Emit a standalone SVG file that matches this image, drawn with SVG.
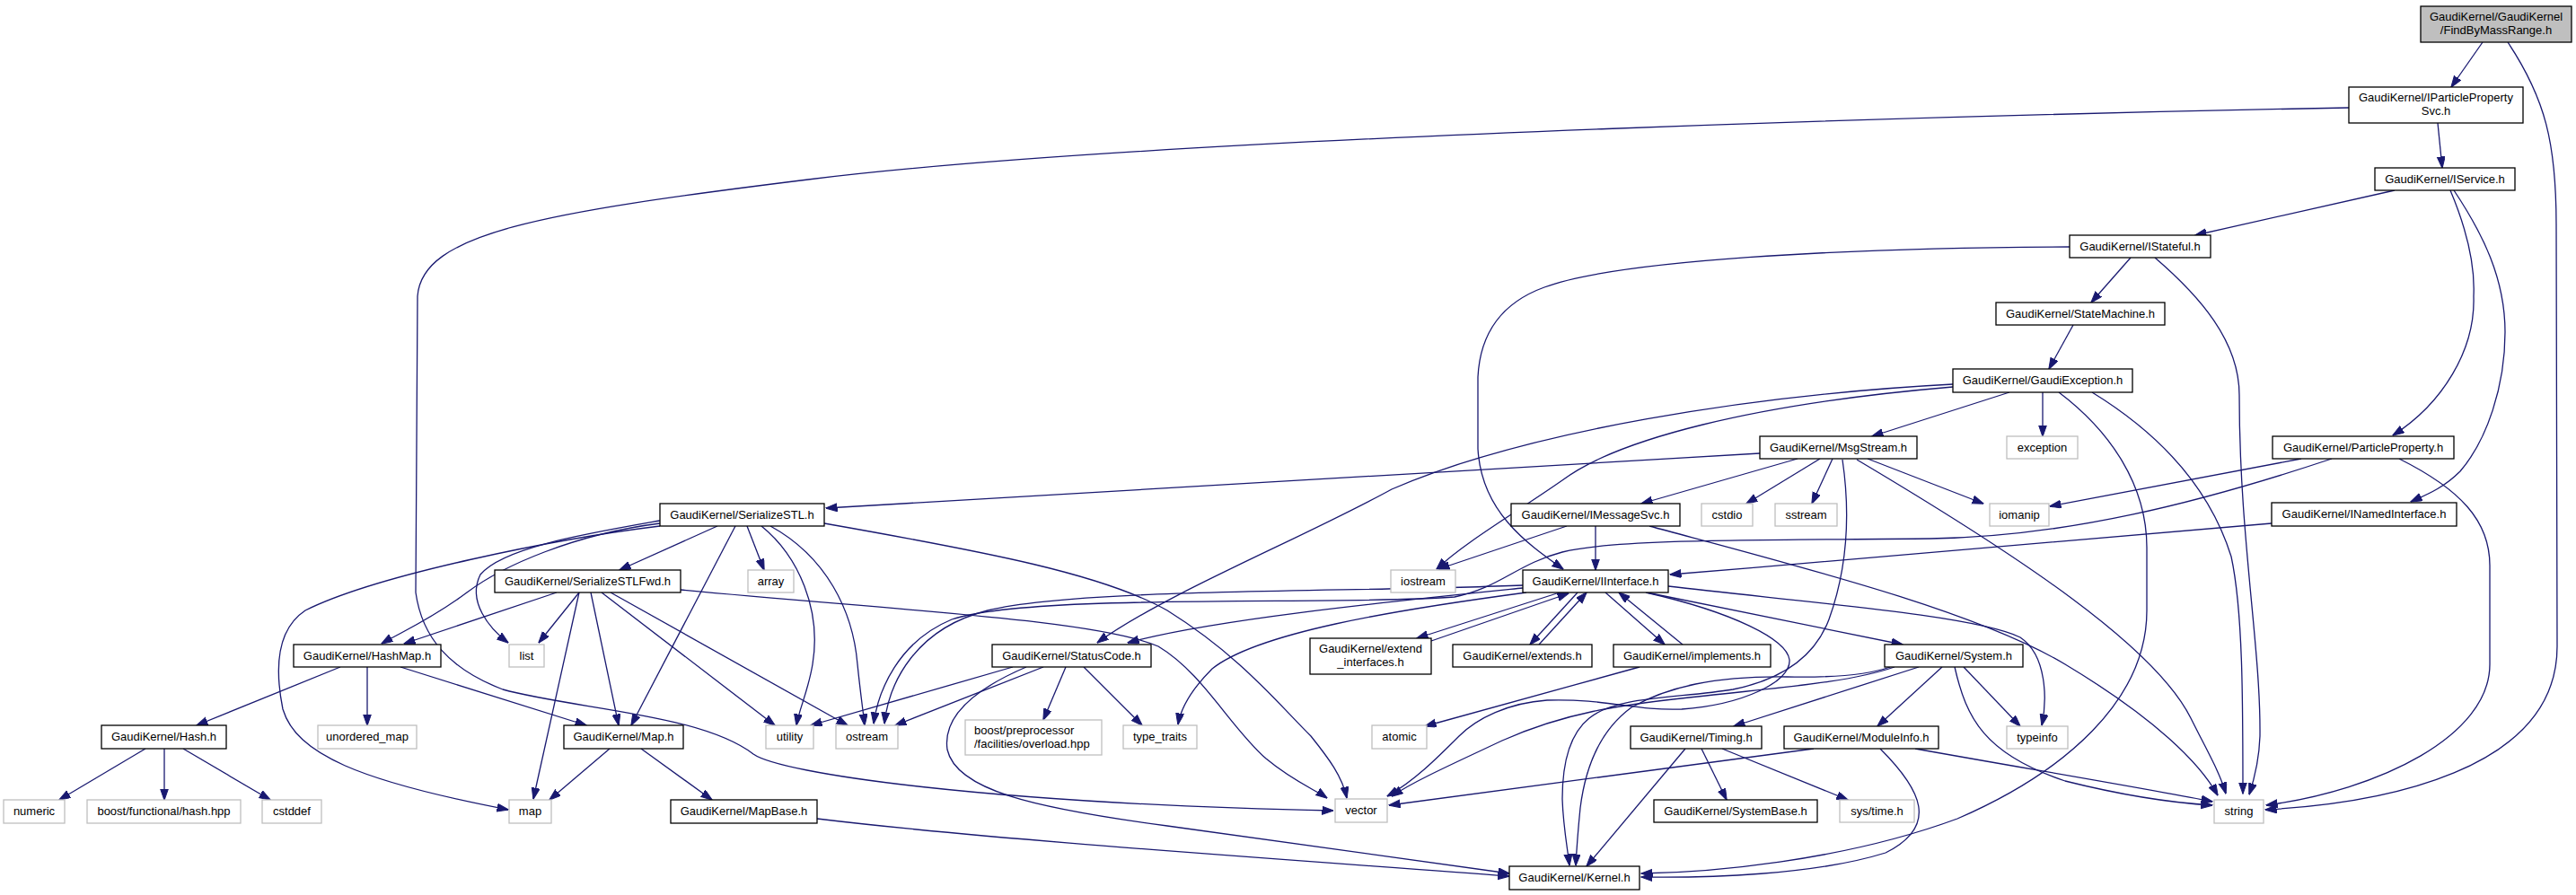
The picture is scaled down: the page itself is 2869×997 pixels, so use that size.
<svg xmlns="http://www.w3.org/2000/svg" width="2869" height="997" viewBox="0 0 2869 997">
<defs>
<marker id="a" markerUnits="userSpaceOnUse" markerWidth="13" markerHeight="10" refX="12.5" refY="4.5" orient="auto"><path d="M0,0 L13,4.5 L0,9 z" fill="#191970" stroke="#191970" stroke-width="1"/></marker>
<style>
rect{fill:#fff;stroke:#000;stroke-width:1.3}
.x rect{stroke:#bfbfbf}
.r rect{fill:#bfbfbf}
text{font-family:"Liberation Sans",Arial,Helvetica,sans-serif;font-size:13px;text-anchor:middle;fill:#000}
.l{text-anchor:start}
#edges path{fill:none;stroke:#191970;stroke-width:1.3;marker-end:url(#a)}
</style>
</defs>
<rect x="0" y="0" width="2869" height="997" style="fill:#fff;stroke:none"/>
<g id="edges">
<path d="M2765,47 L2730,97"/>
<path d="M2793,47 C2835,110 2847,160 2847,250 L2848,720 C2848,860 2650,895 2523,902"/>
<path d="M2715,137 L2720,187"/>
<path d="M2616,120 C2300,126 1300,150 900,200 C600,237 470,260 465,330 L463,660 C470,710 500,745 560,768 C640,790 780,795 839,840 C870,862 1100,895 1485,903"/>
<path d="M2667,212 L2445,262"/>
<path d="M2729,212 C2745,250 2757,290 2755,330 C2757,390 2720,450 2665,485"/>
<path d="M2733,212 C2765,260 2790,310 2790,370 C2790,430 2770,490 2740,525 C2720,545 2700,552 2685,559"/>
<path d="M2305,275 C2050,276 1800,290 1720,320 C1665,340 1648,380 1646,420 L1646,500 C1650,570 1700,605 1741,634"/>
<path d="M2373,287 L2329,337"/>
<path d="M2400,287 C2450,330 2494,380 2494,440 C2494,600 2518,720 2517,820 C2516,850 2510,870 2505,885"/>
<path d="M2309,362 L2282,411"/>
<path d="M2238,437 L2085,486"/>
<path d="M2275,437 L2275,486"/>
<path d="M2175,428 C1950,440 1700,480 1550,545 C1450,600 1300,660 1222,716"/>
<path d="M2175,431 C1950,450 1800,490 1740,535 C1690,570 1630,605 1600,634"/>
<path d="M2293,437 C2350,480 2391,540 2391,610 L2391,680 C2391,780 2300,860 2180,912 C2050,960 1900,972 1828,973"/>
<path d="M2330,437 C2400,480 2460,540 2485,620 C2498,680 2498,780 2498,884"/>
<path d="M1960,505 C1700,520 1400,540 920,566"/>
<path d="M2002,511 L1828,561"/>
<path d="M2027,511 L1945,561"/>
<path d="M2041,511 L2018,561"/>
<path d="M2080,511 L2209,561"/>
<path d="M2068,512 C2250,620 2400,720 2440,800 C2460,840 2472,860 2479,884"/>
<path d="M2052,512 C2062,580 2055,640 2037,690 C2020,735 1980,758 1930,768 C1870,778 1800,775 1770,800 C1745,820 1740,860 1740,890 C1741,920 1745,940 1748,964"/>
<path d="M1777,586 L1777,635"/>
<path d="M1745,586 L1602,634"/>
<path d="M1837,586 C2000,630 2200,680 2300,740 C2400,800 2450,850 2470,886"/>
<path d="M2530,583 C2350,600 2100,620 1860,640"/>
<path d="M2563,511 L2283,564"/>
<path d="M2597,511 C2450,560 2300,598 2150,600 C1950,602 1800,600 1740,615 C1690,628 1670,655 1620,665 C1500,675 1150,660 1060,690 C1000,715 978,770 973,806"/>
<path d="M2672,511 C2740,545 2773,580 2773,630 L2773,740 C2773,820 2650,880 2524,897"/>
<path d="M1737,660 L1578,711"/>
<path d="M1594,714 L1747,661"/>
<path d="M1757,660 L1704,718"/>
<path d="M1714,718 L1767,660"/>
<path d="M1788,660 L1854,718"/>
<path d="M1874,718 L1803,660"/>
<path d="M1834,660 L2119,718"/>
<path d="M1858,653 C2000,670 2200,685 2250,710 C2280,730 2280,780 2274,808"/>
<path d="M1696,655 C1550,670 1350,690 1256,716"/>
<path d="M1700,660 C1550,680 1400,705 1350,745 C1325,770 1315,790 1312,807"/>
<path d="M1696,652 C1500,660 1200,655 1100,680 C1020,700 990,760 985,806"/>
<path d="M1833,660 C1930,682 1990,712 1993,735 C1995,760 1940,785 1873,790 C1820,792 1790,778 1723,780 C1680,783 1645,800 1625,820 C1600,845 1575,870 1545,887"/>
<path d="M2110,743 C2060,760 1990,765 1900,775 C1800,785 1740,795 1673,825 C1620,850 1575,870 1550,887"/>
<path d="M2105,743 C2080,752 2040,755 1990,754 C1910,753 1857,765 1817,788 C1780,815 1765,860 1760,900 C1757,930 1756,945 1755,964"/>
<path d="M2137,743 L1931,809"/>
<path d="M2163,743 L2091,809"/>
<path d="M2187,743 L2250,809"/>
<path d="M2177,743 C2190,800 2210,840 2300,870 C2380,890 2430,895 2464,897"/>
<path d="M1895,834 L1923,891"/>
<path d="M1918,834 L2058,891"/>
<path d="M1877,834 L1767,965"/>
<path d="M2020,834 L1547,897"/>
<path d="M2094,834 C2140,880 2160,920 2100,950 C2020,975 1900,978 1828,977"/>
<path d="M2133,834 C2250,855 2400,880 2464,893"/>
<path d="M1826,743 L1587,809"/>
<path d="M1128,743 L903,808"/>
<path d="M1162,743 L997,808"/>
<path d="M1187,743 L1162,802"/>
<path d="M1207,743 L1272,808"/>
<path d="M1143,743 C1080,770 1050,800 1055,835 C1065,880 1150,900 1300,920 C1450,942 1600,962 1681,973"/>
<path d="M910,912 C1100,935 1400,955 1681,976"/>
<path d="M799,586 L690,635"/>
<path d="M735,583 C640,595 560,630 520,660 C480,690 445,705 425,717"/>
<path d="M735,580 C650,595 560,610 535,640 C520,670 545,700 566,716"/>
<path d="M735,586 C620,600 420,640 340,680 C310,700 305,740 315,790 C330,840 400,870 566,902"/>
<path d="M832,586 L851,635"/>
<path d="M819,586 L703,808"/>
<path d="M848,586 C890,620 915,680 905,740 C900,770 890,790 887,808"/>
<path d="M858,586 C920,620 950,680 955,740 C958,770 961,790 963,808"/>
<path d="M918,583 C1100,615 1230,640 1300,680 C1380,730 1420,780 1460,820 C1480,845 1495,865 1500,889"/>
<path d="M620,660 L450,717"/>
<path d="M645,660 L600,716"/>
<path d="M645,660 L594,890"/>
<path d="M658,660 L689,808"/>
<path d="M670,660 L863,808"/>
<path d="M680,660 L944,808"/>
<path d="M758,657 C1000,680 1220,690 1290,720 C1340,750 1370,810 1410,845 C1440,870 1465,880 1478,889"/>
<path d="M379,743 L219,808"/>
<path d="M409,743 L409,808"/>
<path d="M446,743 L653,808"/>
<path d="M679,834 L612,891"/>
<path d="M714,834 L793,891"/>
<path d="M162,834 L66,891"/>
<path d="M183,834 L183,891"/>
<path d="M204,834 L301,891"/>
</g>
<g id="n1" class="r"><rect x="2696" y="7" width="168" height="40"/><text x="2780" y="23">GaudiKernel/GaudiKernel</text><text x="2780" y="38">/FindByMassRange.h</text></g>
<g id="n2"><rect x="2616" y="97" width="194" height="40"/><text x="2713" y="113">GaudiKernel/IParticleProperty</text><text x="2713" y="128">Svc.h</text></g>
<g id="n3"><rect x="2645" y="187" width="156" height="25"/><text x="2723" y="204">GaudiKernel/IService.h</text></g>
<g id="n4"><rect x="2305" y="262" width="157" height="25"/><text x="2383.5" y="279">GaudiKernel/IStateful.h</text></g>
<g id="n5"><rect x="2223" y="337" width="188" height="25"/><text x="2317" y="354">GaudiKernel/StateMachine.h</text></g>
<g id="n6"><rect x="2175" y="411" width="200" height="26"/><text x="2275" y="428">GaudiKernel/GaudiException.h</text></g>
<g id="n7"><rect x="1960" y="486" width="175" height="25"/><text x="2047.5" y="503">GaudiKernel/MsgStream.h</text></g>
<g id="n8" class="x"><rect x="2235" y="486" width="79" height="25"/><text x="2274.5" y="503">exception</text></g>
<g id="n9"><rect x="2531" y="486" width="202" height="25"/><text x="2632" y="503">GaudiKernel/ParticleProperty.h</text></g>
<g id="n10"><rect x="2530" y="560" width="206" height="26"/><text x="2633" y="577">GaudiKernel/INamedInterface.h</text></g>
<g id="n11" class="x"><rect x="2216" y="561" width="66" height="25"/><text x="2249" y="578">iomanip</text></g>
<g id="n12"><rect x="1683" y="561" width="188" height="25"/><text x="1777" y="578">GaudiKernel/IMessageSvc.h</text></g>
<g id="n13" class="x"><rect x="1895" y="561" width="57" height="25"/><text x="1923.5" y="578">cstdio</text></g>
<g id="n14" class="x"><rect x="1977" y="561" width="69" height="25"/><text x="2011.5" y="578">sstream</text></g>
<g id="n15"><rect x="735" y="561" width="183" height="25"/><text x="826.5" y="578">GaudiKernel/SerializeSTL.h</text></g>
<g id="n16" class="x"><rect x="1549" y="635" width="72" height="25"/><text x="1585" y="652">iostream</text></g>
<g id="n17"><rect x="1696" y="635" width="162" height="25"/><text x="1777" y="652">GaudiKernel/IInterface.h</text></g>
<g id="n18"><rect x="551" y="635" width="207" height="25"/><text x="654.5" y="652">GaudiKernel/SerializeSTLFwd.h</text></g>
<g id="n19" class="x"><rect x="833" y="635" width="51" height="25"/><text x="858.5" y="652">array</text></g>
<g id="n20" class="x"><rect x="567" y="718" width="39" height="25"/><text x="586.5" y="735">list</text></g>
<g id="n21"><rect x="327" y="718" width="164" height="25"/><text x="409" y="735">GaudiKernel/HashMap.h</text></g>
<g id="n22"><rect x="1105" y="718" width="177" height="25"/><text x="1193.5" y="735">GaudiKernel/StatusCode.h</text></g>
<g id="n23"><rect x="1459" y="711" width="135" height="40"/><text x="1526.5" y="727">GaudiKernel/extend</text><text x="1526.5" y="742">_interfaces.h</text></g>
<g id="n24"><rect x="1618" y="718" width="155" height="25"/><text x="1695.5" y="735">GaudiKernel/extends.h</text></g>
<g id="n25"><rect x="1797" y="718" width="175" height="25"/><text x="1884.5" y="735">GaudiKernel/implements.h</text></g>
<g id="n26"><rect x="2099" y="718" width="154" height="25"/><text x="2176" y="735">GaudiKernel/System.h</text></g>
<g id="n27"><rect x="113" y="808" width="139" height="26"/><text x="182.5" y="825">GaudiKernel/Hash.h</text></g>
<g id="n28" class="x"><rect x="354" y="808" width="110" height="26"/><text x="409" y="825">unordered_map</text></g>
<g id="n29"><rect x="628" y="808" width="133" height="26"/><text x="694.5" y="825">GaudiKernel/Map.h</text></g>
<g id="n30" class="x"><rect x="853" y="808" width="53" height="26"/><text x="879.5" y="825">utility</text></g>
<g id="n31" class="x"><rect x="931" y="808" width="69" height="26"/><text x="965.5" y="825">ostream</text></g>
<g id="n32" class="x"><rect x="1075" y="802" width="152" height="39"/><text class="l" x="1085" y="818">boost/preprocessor</text><text class="l" x="1085" y="833">/facilities/overload.hpp</text></g>
<g id="n33" class="x"><rect x="1251" y="808" width="82" height="26"/><text x="1292" y="825">type_traits</text></g>
<g id="n34" class="x"><rect x="1528" y="808" width="61" height="26"/><text x="1558.5" y="825">atomic</text></g>
<g id="n35"><rect x="1816" y="809" width="146" height="25"/><text x="1889" y="826">GaudiKernel/Timing.h</text></g>
<g id="n36"><rect x="1987" y="809" width="172" height="25"/><text x="2073" y="826">GaudiKernel/ModuleInfo.h</text></g>
<g id="n37" class="x"><rect x="2235" y="809" width="68" height="25"/><text x="2269" y="826">typeinfo</text></g>
<g id="n38" class="x"><rect x="4" y="891" width="68" height="26"/><text x="38" y="908">numeric</text></g>
<g id="n39" class="x"><rect x="97" y="891" width="171" height="26"/><text x="182.5" y="908">boost/functional/hash.hpp</text></g>
<g id="n40" class="x"><rect x="292" y="891" width="66" height="26"/><text x="325" y="908">cstddef</text></g>
<g id="n41" class="x"><rect x="567" y="891" width="47" height="26"/><text x="590.5" y="908">map</text></g>
<g id="n42"><rect x="747" y="891" width="163" height="26"/><text x="828.5" y="908">GaudiKernel/MapBase.h</text></g>
<g id="n43" class="x"><rect x="1487" y="890" width="58" height="26"/><text x="1516" y="907">vector</text></g>
<g id="n44"><rect x="1842" y="891" width="182" height="25"/><text x="1933" y="908">GaudiKernel/SystemBase.h</text></g>
<g id="n45" class="x"><rect x="2049" y="891" width="83" height="25"/><text x="2090.5" y="908">sys/time.h</text></g>
<g id="n46" class="x"><rect x="2466" y="891" width="55" height="26"/><text x="2493.5" y="908">string</text></g>
<g id="n47"><rect x="1681" y="965" width="145" height="26"/><text x="1753.5" y="982">GaudiKernel/Kernel.h</text></g>
</svg>
